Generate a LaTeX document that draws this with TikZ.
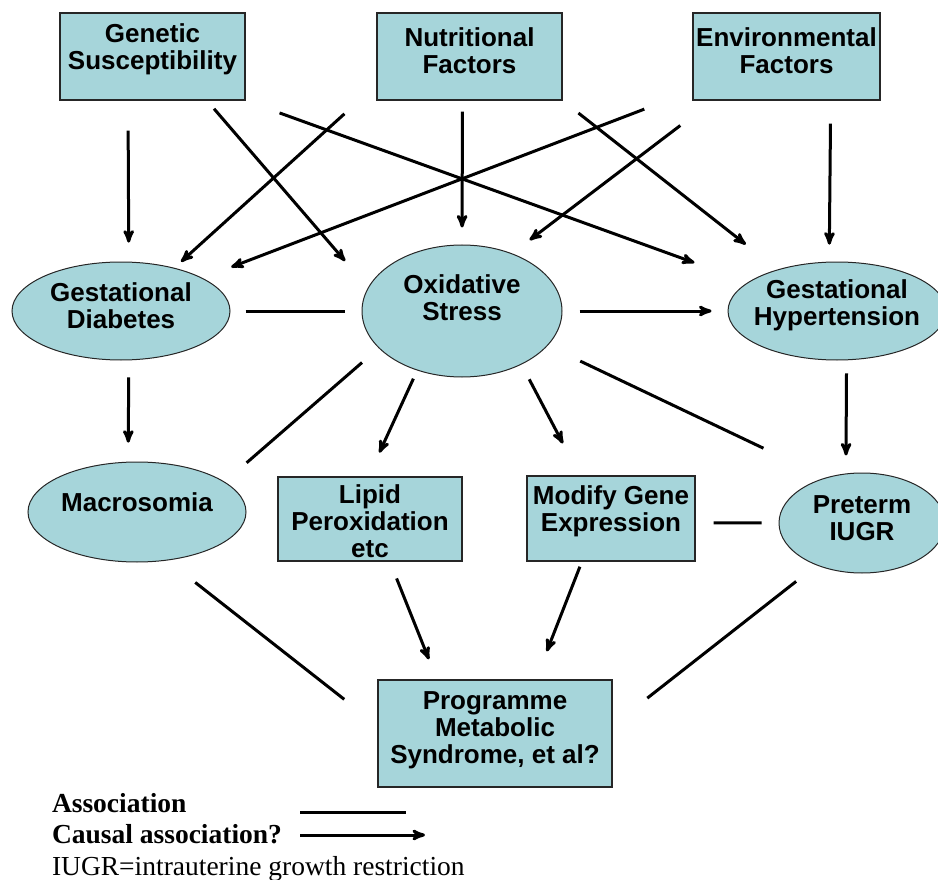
\documentclass[tikz,border=0pt]{standalone}
\usepackage{fontspec}
\setmainfont{Liberation Serif}
\newfontfamily\boxfont{Liberation Sans}
\usetikzlibrary{arrows,shapes.geometric}

\definecolor{panel}{RGB}{166,213,218}

\tikzset{
  factor/.style={rectangle, draw=black!85, line width=1.4pt, fill=panel, inner sep=0pt,
    align=center, font=\boxfont\bfseries\fontsize{26}{27}\selectfont, text height=46pt},
  outcome/.style={ellipse, draw=black!85, line width=1pt, fill=panel, inner sep=0pt,
    align=center, font=\boxfont\bfseries\fontsize{26}{27}\selectfont, text height=46pt},
  cause/.style={->},
  assoc/.style={-},
  legend/.style={anchor=base west, inner sep=0pt, outer sep=0pt, font=\fontsize{27.5}{30}\selectfont}
}

\begin{document}
\begin{tikzpicture}[>=stealth', x=1pt, y=-1pt, line width=3pt, node distance=317pt]

\useasboundingbox (0,0) rectangle (938,880);

% factors on top
\node[factor, minimum width=185pt, minimum height=87pt, text depth=20pt] (gene) at (152.5,56.5) {Genetic\\Susceptibility};
\node[factor, minimum width=185pt, minimum height=87pt, text depth=11pt] (nutr) [right of=gene] {Nutritional\\Factors};
\node[factor, minimum width=187pt, minimum height=87pt, text depth=11pt] (env)  [right of=nutr] {Environmental\\Factors};

% conditions
\node[outcome, minimum width=218pt, minimum height=98pt, text depth=11.4pt]  (gd) at (121,311) {Gestational\\Diabetes};
\node[outcome, minimum width=200pt, minimum height=132pt, text depth=27.4pt] (ox) at (462,311) {Oxidative\\Stress};
\node[outcome, minimum width=218pt, minimum height=98pt, inner xsep=-8pt, text depth=16.4pt] (gh) at (837,311) {Gestational\\Hypertension};

\node[outcome, minimum width=218pt, minimum height=100pt, text height=19pt, text depth=20.4pt] (macro) at (137,512) {Macrosomia};
\node[factor, minimum width=184pt, minimum height=84pt, text height=77pt, text depth=0pt] (lipid) at (370,519) {Lipid\\Peroxidation\\etc};
\node[factor, minimum width=168pt, minimum height=85pt, text depth=19.8pt]   (gexpr) at (611,518.5) {Modify Gene\\Expression};
\node[outcome, minimum width=166pt, minimum height=100pt, text depth=11.4pt] (iugr) at (862,523) {Preterm\\IUGR};

\node[factor, minimum width=234pt, minimum height=107pt, text height=73pt, text depth=12.4pt] (prog) at (495,733.5) {Programme\\Metabolic\\Syndrome, et al?};

% causal links
\path[cause]
  (gene.-119.4) edge[shorten <=30pt, shorten >=19pt]   (gd.81.9)
  (gene.-39.6)  edge[shorten <=10.6pt, shorten >=35pt] (ox.166.5)
  (gene.south east) edge[shorten <=36pt, shorten >=57pt] (gh.162.1)
  (nutr.-163.4) edge[shorten <=43pt, shorten >=9pt]    (gd.39.4)
  (nutr.-99.8)  edge[shorten <=11pt, shorten >=17pt]   (ox.north)
  (nutr.south east) edge[shorten <=20pt, shorten >=40.5pt] (gh.145.9)
  (env.-160.5)  edge[shorten <=51.4pt, shorten >=30.6pt] (gd.22.3)
  (env.-149.9)  edge[shorten <=41pt, shorten >=22pt]   (ox.49.3)
  (env.-45.7)   edge[shorten <=23pt, shorten >=17pt]   (gh.99.3)
  (ox.east)     edge[shorten <=17pt, shorten >=16pt]   (gh.west)
  (gd.-81.9)    edge[shorten <=17pt, shorten >=19pt]   (macro.100.2)
  (ox.-127.6)   edge[shorten <=9pt, shorten >=26pt]    (lipid.92.6)
  (ox.-42)      edge[shorten <=16.6pt, shorten >=36pt] (gexpr.126.4)
  (gh.-79.6)    edge[shorten <=13pt, shorten >=18pt]   (iugr.108.1)
  (lipid.-65.2) edge[shorten <=18pt, shorten >=21.5pt] (prog.137.9)
  (gexpr.-124.3) edge[shorten <=5.4pt, shorten >=30pt] (prog.53.3);

% plain associations
\path[assoc]
  (gd.east)     edge[shorten <=15pt, shorten >=17pt]   (ox.west)
  (ox.-156.3)   edge[shorten <=22pt, shorten >=29pt]   (macro.19.9)
  (ox.-22.9)    edge[shorten <=36pt, shorten >=68.5pt] (iugr.129.7)
  (gexpr.-3)    edge[shorten <=18pt, shorten >=17pt]   (iugr.west)
  (macro.-58)   edge[shorten <=35.5pt, shorten >=42pt] (prog.176.3)
  (iugr.-137.3) edge[shorten <=26pt, shorten >=44pt]   (prog.4.2);

% legend
\node[legend] (lgassoc) at (52,812) {\textbf{Association}};
\node[legend] (lgcause) at (52,843) {\textbf{Causal association?}};
\node[legend] (lgiugr)  at (52,875) {IUGR=intrauterine growth restriction};
\coordinate (assocL) at (300,812);
\coordinate (assocR) at (406,812);
\coordinate (causeL) at (300,835);
\coordinate (causeR) at (425,835);
\draw[assoc] (assocL) -- (assocR);
\draw[cause] (causeL) -- (causeR);

\end{tikzpicture}
\end{document}
